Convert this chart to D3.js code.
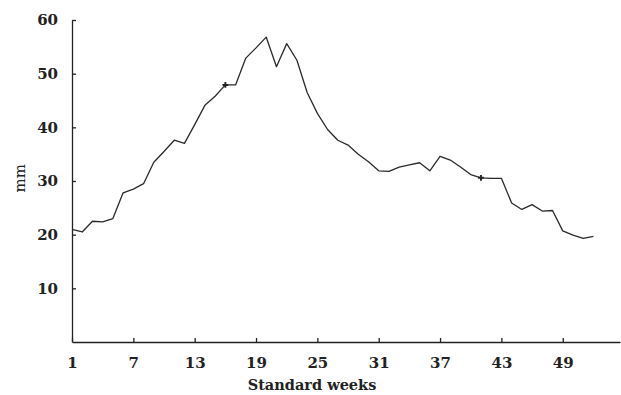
<!DOCTYPE html>
<html>
<head>
<meta charset="utf-8">
<script src="https://cdn.jsdelivr.net/npm/d3@7/dist/d3.min.js"></script>
<style>
  html, body { margin: 0; padding: 0; background: #fff; }
  svg { display: block; }
  .axis text { font-family: "DejaVu Serif", serif; font-weight: bold; font-size: 15px; fill: #222; }
  .axis path, .axis line { stroke: #222; stroke-width: 1.3; }
</style>
</head>
<body>
<svg id="chart" width="621" height="395"></svg>
<script>
// Data
const weeks = [1,2,3,4,5,6,7,8,9,10,11,12,13,14,15,16,17,18,19,20,21,22,23,24,25,26,
               27,28,29,30,31,32,33,34,35,36,37,38,39,40,41,42,43,44,45,46,47,48,49,50,51,52];
const rainfall = [21.0,20.5,22.5,22.4,23.0,27.8,28.5,29.5,33.5,35.5,37.6,37.0,40.5,44.1,45.8,47.9,
                  47.9,52.9,54.8,56.8,51.3,55.6,52.5,46.5,42.6,39.6,37.6,36.7,35.0,33.6,31.9,31.8,
                  32.6,33.0,33.4,31.9,34.6,33.9,32.6,31.2,30.6,30.5,30.5,25.9,24.7,25.6,24.4,24.5,
                  20.7,19.9,19.3,19.7];
const markedWeeks = [16, 41];
const xTickValues = [1, 7, 13, 19, 25, 31, 37, 43, 49];
const yTickValues = [10, 20, 30, 40, 50, 60];
const xLabel = "Standard weeks";
const yLabel = "mm";

const svg = d3.select("#chart");
const x = d3.scaleLinear().domain([1, 54.6]).range([72, 620]);
const y = d3.scaleLinear().domain([0, 60]).range([342, 20]);

// X axis
svg.append("g")
  .attr("class", "axis")
  .attr("transform", `translate(0,${y(0)})`)
  .call(d3.axisBottom(x).tickValues(xTickValues).tickFormat(d3.format("d"))
        .tickSizeInner(-4).tickSizeOuter(0).tickPadding(15));

// Y axis
svg.append("g")
  .attr("class", "axis")
  .attr("transform", `translate(${x(1)},0)`)
  .call(d3.axisLeft(y).tickValues(yTickValues).tickFormat(d3.format("d"))
        .tickSizeInner(-4).tickSizeOuter(0).tickPadding(14));

// Axis labels
svg.append("text")
  .attr("x", 312)
  .attr("y", 390)
  .attr("text-anchor", "middle")
  .style("font-family", "DejaVu Serif, serif")
  .style("font-weight", "bold")
  .style("font-size", "14.5px")
  .style("fill", "#222")
  .text(xLabel);

svg.append("text")
  .attr("transform", `translate(25,${y(30.5)}) rotate(-90)`)
  .attr("text-anchor", "middle")
  .style("font-family", "DejaVu Serif, serif")
  .style("font-size", "15px")
  .style("fill", "#222")
  .text(yLabel);

// Line
const data = weeks.map((w, i) => ({ w, v: rainfall[i] }));
svg.append("path")
  .datum(data)
  .attr("fill", "none")
  .attr("stroke", "#2a2a2a")
  .attr("stroke-width", 1.3)
  .attr("stroke-linejoin", "round")
  .attr("d", d3.line().x(d => x(d.w)).y(d => y(d.v)));

// Plus markers
svg.selectAll("path.mark")
  .data(data.filter(d => markedWeeks.includes(d.w)))
  .join("path")
  .attr("class", "mark")
  .attr("transform", d => `translate(${x(d.w)},${y(d.v)})`)
  .attr("d", d3.symbol(d3.symbolCross, 18))
  .attr("fill", "#222");
</script>
</body>
</html>
